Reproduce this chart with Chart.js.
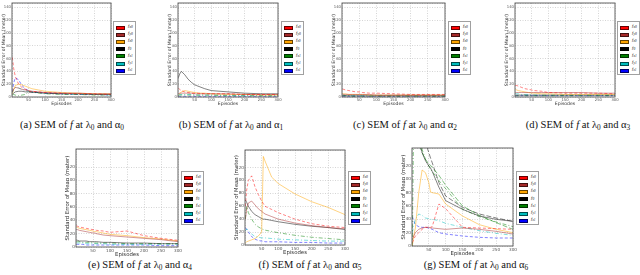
<!DOCTYPE html>
<html>
<head>
<meta charset="utf-8">
<script src="https://cdn.jsdelivr.net/npm/chart.js@4.4.1/dist/chart.umd.min.js"></script>
<style>
  body { margin: 0; width: 640px; height: 275px; background: #fff; position: relative; overflow: hidden; }
  canvas { position: absolute; }
  .leg { position: absolute; box-sizing: border-box; border: 1px solid #a0a0a0; background: #fff; font-family: "Liberation Serif", serif; }
  .leg div { position: absolute; left: 0; height: 7px; white-space: nowrap; }
  .leg .sw { position: absolute; left: 2px; top: 1.5px; width: 9px; height: 4px; box-sizing: border-box; border: 0.5px solid rgba(0,0,0,0.6); }
  .leg .lb { position: absolute; left: 14px; top: -1px; font-size: 5px; font-style: italic; color: #222; }
  .cap { position: absolute; font-family: "Liberation Serif", serif; font-size: 10.5px; color: #111; white-space: nowrap; transform: translateX(-50%); }
  sub { font-size: 70%; vertical-align: -0.25em; line-height: 0; }
</style>
</head>
<body>
<script>
// episodes at which the curves are sampled
const EPISODES = [1, 5, 10, 20, 30, 40, 50, 55, 60, 80, 100, 150, 200, 250, 300];
const Y_MAX = 147;

// legend entries (subscripts of f) and their colours
const SERIES_SUB = ['x0', 'y0', 'z0', '0', 'x1', 'y1', 'z1'];
const SERIES_RGB = ['255,0,0', '165,42,42', '255,165,0', '0,0,0', '0,128,0', '0,190,190', '0,0,255'];
const SERIES_DASH = [[3, 2], [], [], [], [4, 2, 1, 2], [4, 2, 1, 2], [3, 2]];

// (a) alpha 0
const semA = [
    [62, 45, 32, 20, 15, 12, 10, 9, 9, 8, 7, 6, 5, 5, 4],
    [8, 12, 15, 14, 12, 11, 10, 9, 9, 8, 7, 6, 6, 5, 5],
    [5, 12, 18, 20, 19, 17, 15, 14, 13, 11, 9, 7, 6, 5, 5],
    [4, 6, 8, 9, 9, 8, 8, 7, 7, 7, 6, 5, 5, 4, 4],
    [3, 4, 3, 2, 3, 4, 8, 9, 8, 6, 5, 4, 4, 3, 3],
    [6, 12, 15, 14, 12, 10, 9, 8, 8, 7, 6, 5, 4, 4, 3],
    [8, 22, 30, 27, 18, 13, 10, 9, 8, 7, 6, 5, 4, 4, 3]
];

// (b) alpha 1
const semB = [
    [14, 12, 10, 8, 7, 6, 6, 6, 6, 5, 5, 5, 4, 4, 4],
    [5, 6, 6, 6, 6, 6, 5, 5, 5, 5, 5, 5, 4, 4, 4],
    [3, 5, 8, 10, 9, 8, 7, 7, 6, 6, 5, 4, 4, 3, 3],
    [30, 36, 40, 35, 28, 23, 19, 18, 17, 13, 10, 8, 6, 5, 5],
    [2, 3, 3, 3, 3, 3, 3, 3, 3, 3, 3, 2, 2, 2, 2],
    [3, 4, 4, 4, 4, 4, 3, 3, 3, 3, 3, 3, 2, 2, 2],
    [1, 1, 1, 1, 1, 1, 1, 1, 1, 1, 1, 1, 1, 1, 1]
];

// (c) alpha 2
const semC = [
    [12, 12, 11, 10, 9, 8, 8, 7, 7, 6, 6, 5, 4, 4, 4],
    [4, 4, 4, 4, 4, 4, 4, 4, 4, 4, 3, 3, 3, 3, 3],
    [6, 5, 5, 4, 4, 4, 4, 4, 4, 3, 3, 3, 3, 3, 3],
    [2, 2, 2, 2, 2, 2, 2, 2, 2, 2, 2, 2, 2, 2, 2],
    [2, 2, 2, 2, 1, 1, 1, 1, 1, 1, 1, 1, 1, 1, 1],
    [3, 3, 2, 2, 2, 2, 2, 2, 2, 2, 2, 2, 2, 2, 2],
    [1, 1, 1, 1, 1, 1, 1, 1, 1, 1, 1, 1, 1, 1, 1]
];

// (d) alpha 3
const semD = [
    [18, 18, 17, 15, 13, 12, 11, 10, 10, 9, 7, 6, 6, 6, 5],
    [7, 7, 7, 7, 7, 7, 7, 7, 7, 7, 7, 7, 7, 6, 6],
    [12, 11, 10, 9, 8, 7, 6, 6, 6, 5, 5, 4, 4, 4, 4],
    [3, 3, 3, 3, 3, 3, 3, 3, 3, 3, 3, 3, 3, 3, 3],
    [2, 2, 2, 2, 2, 2, 2, 2, 2, 2, 2, 2, 2, 2, 2],
    [6, 5, 5, 4, 4, 4, 3, 3, 3, 3, 3, 3, 3, 3, 3],
    [2, 2, 2, 2, 2, 2, 2, 2, 2, 2, 2, 2, 2, 2, 2]
];

// (e) alpha 4
const semE = [
    [32, 31, 30, 29, 28, 27, 26, 26, 25, 24, 22, 24, 17, 13, 10],
    [26, 26, 25, 24, 23, 22, 21, 21, 20, 18, 17, 15, 13, 11, 8],
    [30, 29, 28, 27, 26, 25, 24, 23, 23, 21, 19, 17, 14, 12, 9],
    [10, 10, 9, 9, 9, 8, 8, 8, 8, 7, 7, 6, 6, 5, 5],
    [8, 8, 8, 7, 7, 7, 7, 6, 6, 6, 6, 5, 5, 5, 5],
    [6, 6, 6, 6, 5, 5, 5, 5, 5, 5, 4, 4, 4, 4, 4],
    [4, 4, 4, 4, 3, 3, 3, 3, 3, 3, 3, 3, 3, 2, 2]
];

// (f) alpha 5
const semF = [
    [60, 85, 100, 107, 90, 78, 68, 64, 60, 55, 50, 40, 33, 29, 27],
    [40, 55, 65, 68, 62, 56, 52, 50, 48, 44, 40, 34, 30, 27, 25],
    [3, 5, 6, 8, 10, 14, 20, 137, 130, 105, 95, 79, 67, 58, 47],
    [70, 66, 60, 52, 47, 44, 41, 40, 40, 38, 36, 32, 29, 27, 24],
    [40, 60, 50, 40, 32, 28, 25, 24, 23, 21, 19, 15, 12, 10, 8],
    [22, 25, 22, 17, 13, 12, 11, 11, 11, 10, 9, 8, 7, 6, 6],
    [27, 24, 20, 13, 9, 7, 6, 6, 5, 5, 5, 4, 4, 3, 3]
];

// (g) alpha 6
const semG = [
    [5, 10, 15, 20, 25, 28, 28, 28, 29, 63, 56, 28, 27, 26, 25],
    [10, 15, 20, 25, 27, 28, 28, 27, 27, 26, 25, 27, 25, 22, 18],
    [0, 15, 27, 80, 114, 110, 95, 81, 80, 78, 63, 45, 32, 25, 20],
    [200, 200, 190, 160, 140, 128, 120, 117, 112, 88, 68, 55, 45, 40, 37],
    [0, 200, 200, 170, 145, 130, 120, 115, 112, 98, 86, 55, 44, 36, 29],
    [20, 30, 40, 48, 46, 42, 41, 40, 40, 38, 34, 28, 23, 19, 16],
    [44, 38, 32, 29, 28, 28, 27, 26, 25, 20, 18, 15, 13, 12, 12]
];
// second (dashed) runs drawn in (g) for the green and black entries
const semGGreen2 = [200, 200, 180, 155, 140, 130, 123, 121, 118, 106, 91, 60, 46, 35, 25];
const semGBlack2 = [200, 200, 200, 200, 175, 155, 140, 132, 125, 95, 75, 58, 48, 42, 37];

/* -------------------------
   PANEL LAYOUT
--------------------------*/

const panels = [
    { tag: 'a', alpha: '0', rows: semA, plot: [12, 3, 99, 94], leg: [113, 21], cap: [72, 119], small: true },
    { tag: 'b', alpha: '1', rows: semB, plot: [178, 3, 100, 94], leg: [281, 21], cap: [231, 119], small: true },
    { tag: 'c', alpha: '2', rows: semC, plot: [342, 3, 103, 94], leg: [448, 21], cap: [405, 119], small: true },
    { tag: 'd', alpha: '3', rows: semD, plot: [515, 3, 100, 94], leg: [617, 21], cap: [578, 119], small: true },
    { tag: 'e', alpha: '4', rows: semE, plot: [76, 149, 102, 98], leg: [181, 171], cap: [140, 259], small: false },
    { tag: 'f', alpha: '5', rows: semF, plot: [245, 150, 100, 95], leg: [348, 171], cap: [310, 259], small: false },
    { tag: 'g', alpha: '6', rows: semG, plot: [412, 148, 101, 98], leg: [516, 171], cap: [476, 259], small: false,
      extra: [{ row: semGGreen2, k: 4, dash: [5, 2] }, { row: semGBlack2, k: 3, dash: [5, 2] }] }
];

const framePlugin = {
    id: 'frame',
    afterDraw(chart) {
        const a = chart.chartArea;
        const ctx = chart.ctx;
        ctx.save();
        ctx.strokeStyle = '#555';
        ctx.lineWidth = 0.9;
        ctx.strokeRect(a.left, a.top, a.right - a.left, a.bottom - a.top);
        ctx.restore();
    }
};

function toPoints(row) {
    return EPISODES.map((x, i) => ({ x: x, y: row[i] }));
}

function lineSet(row, k, dash) {
    return {
        data: toPoints(row),
        borderColor: 'rgba(' + SERIES_RGB[k] + ',0.55)',
        borderDash: dash,
        borderWidth: 0.9,
        pointRadius: 0,
        tension: 0,
        fill: false
    };
}

function makePanel(p) {
    const YW = p.small ? 11 : 12;
    const XH = p.small ? 10 : 11;
    const PADT = 4, PADR = 8;
    const [L, T, W, H] = p.plot;
    const tickSize = p.small ? 3.8 : 4.2;
    const titleSize = p.small ? 4.6 : 5.4;

    const cv = document.createElement('canvas');
    cv.width = W + YW + PADR;
    cv.height = H + PADT + XH;
    cv.style.left = (L - YW) + 'px';
    cv.style.top = (T - PADT) + 'px';
    document.body.appendChild(cv);

    const datasets = p.rows.map((row, k) => lineSet(row, k, SERIES_DASH[k]));
    (p.extra || []).forEach(e => datasets.push(lineSet(e.row, e.k, e.dash)));

    new Chart(cv, {
        type: 'line',
        data: { datasets: datasets },
        options: {
            responsive: false,
            animation: false,
            devicePixelRatio: 1,
            layout: { padding: { left: 0, top: PADT, right: PADR, bottom: 0 } },
            plugins: { legend: { display: false }, tooltip: { enabled: false } },
            scales: {
                x: {
                    type: 'linear', min: 0, max: 300,
                    ticks: {
                        stepSize: 50, autoSkip: false, maxRotation: 0, padding: 1,
                        font: { size: tickSize, family: 'DejaVu Sans' }, color: '#555',
                        callback: v => (v === 0 ? '' : v)
                    },
                    grid: { color: '#b8b8b8', lineWidth: 0.6, drawTicks: false },
                    border: { display: false, dash: [1, 1.5] },
                    title: { display: true, text: 'Episodes', font: { size: titleSize, family: 'DejaVu Sans' }, color: '#333', padding: 0 },
                    afterFit(s) { s.height = XH; s.paddingLeft = 0; s.paddingRight = 0; }
                },
                y: {
                    type: 'linear', min: 0, max: Y_MAX,
                    ticks: {
                        stepSize: 20, padding: 1,
                        font: { size: tickSize, family: 'DejaVu Sans' }, color: '#555',
                        callback: v => (v % 20 === 0 ? v : '')
                    },
                    grid: { color: '#b8b8b8', lineWidth: 0.6, drawTicks: false },
                    border: { display: false, dash: [1, 1.5] },
                    title: { display: true, text: 'Standard Error of Mean (meter)', font: { size: titleSize, family: 'DejaVu Sans' }, color: '#333', padding: 0 },
                    afterFit(s) { s.width = YW; s.paddingTop = 0; s.paddingBottom = 0; }
                }
            }
        },
        plugins: [framePlugin]
    });

    // legend box
    const leg = document.createElement('div');
    leg.className = 'leg';
    leg.style.left = p.leg[0] + 'px';
    leg.style.top = p.leg[1] + 'px';
    leg.style.width = '23px';
    leg.style.height = '54px';
    SERIES_SUB.forEach((sub, k) => {
        const row = document.createElement('div');
        row.style.top = (2 + k * 7.2) + 'px';
        row.innerHTML = '<span class="sw" style="background:rgb(' + SERIES_RGB[k] + ')"></span>' +
            '<span class="lb">f<sub>' + sub + '</sub></span>';
        leg.appendChild(row);
    });
    document.body.appendChild(leg);

    // caption
    const cap = document.createElement('div');
    cap.className = 'cap';
    cap.style.left = p.cap[0] + 'px';
    cap.style.top = p.cap[1] + 'px';
    cap.innerHTML = '(' + p.tag + ') SEM of <i>f</i> at λ<sub>0</sub> and α<sub>' + p.alpha + '</sub>';
    document.body.appendChild(cap);
}

panels.forEach(makePanel);
</script>
</body>
</html>
